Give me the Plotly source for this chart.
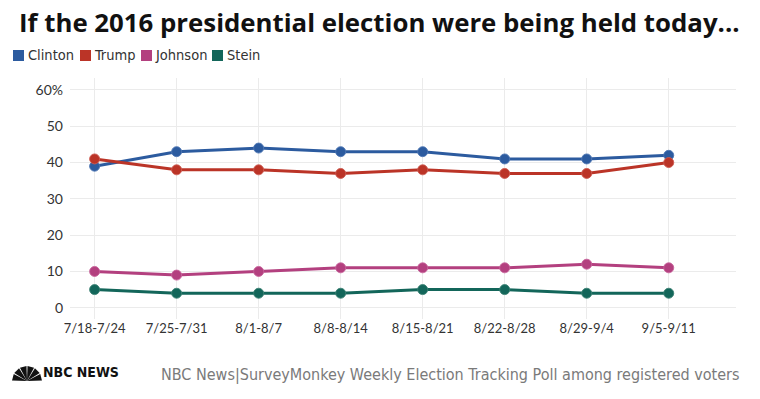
import plotly.graph_objects as go
import math

weeks = ["7/18-7/24", "7/25-7/31", "8/1-8/7", "8/8-8/14", "8/15-8/21", "8/22-8/28", "8/29-9/4", "9/5-9/11"]
clinton = [39, 43, 44, 43, 43, 41, 41, 42]
trump = [41, 38, 38, 37, 38, 37, 37, 40]
johnson = [10, 9, 10, 11, 11, 11, 12, 11]
stein = [5, 4, 4, 4, 5, 5, 4, 4]
y_ticks = [0, 10, 20, 30, 40, 50, 60]
y_ticktext = ["0", "10", "20", "30", "40", "50", "60%"]

series = [("Clinton", clinton, "#2c5b9f", "rgba(80,120,180,0.9)"),
          ("Trump", trump, "#bb3427", "rgba(205,90,80,0.9)"),
          ("Johnson", johnson, "#b3407f", "rgba(200,100,155,0.9)"),
          ("Stein", stein, "#13665a", "rgba(60,130,115,0.9)")]

W, H = 760, 399
L, R, T, B = 70, 24, 78, 80
PW, PH = W - L - R, H - T - B

def px(x):
    return (x - L) / PW

def py(y):
    return (H - B - y) / PH

fig = go.Figure()
for name, vals, col, edge in series:
    fig.add_trace(go.Scatter(x=weeks, y=vals, name=name, mode="lines+markers",
                             line=dict(color=col, width=3),
                             marker=dict(color=col, size=10, line=dict(color=edge, width=1)),
                             showlegend=False))

cond_font = "DejaVu Sans Condensed, Roboto, sans-serif"
tick_font = "Lato, Open Sans, sans-serif"

annotations = [
    dict(text="<b>If the 2016 presidential election were being held today...</b>",
         x=px(17), y=py(22), xref="paper", yref="paper", xanchor="left", yanchor="middle",
         showarrow=False, font=dict(family="Open Sans, sans-serif", size=25.8, color="#111")),
    dict(text="NBC News|SurveyMonkey Weekly Election Tracking Poll among registered voters",
         x=px(741), y=py(374), xref="paper", yref="paper", xanchor="right", yanchor="middle",
         showarrow=False, font=dict(family=cond_font, size=16, color="#7a7a7a")),
    dict(text="<b>NBC NEWS</b>",
         x=px(41), y=py(372), xref="paper", yref="paper", xanchor="left", yanchor="middle",
         showarrow=False, font=dict(family=cond_font, size=14, color="#111")),
]
legend_pos = [(13, 26), (80, 92), (141, 153), (212, 225)]
shapes = []
for (name, vals, col, edge), (sx, tx) in zip(series, legend_pos):
    shapes.append(dict(type="rect", xref="paper", yref="paper",
                       x0=px(sx), x1=px(sx + 11), y0=py(61), y1=py(50),
                       fillcolor=col, line=dict(width=0)))
    annotations.append(dict(text=name, x=px(tx), y=py(55), xref="paper", yref="paper",
                            xanchor="left", yanchor="middle", showarrow=False,
                            font=dict(family=cond_font, size=14.5, color="#333")))

# simple peacock glyph for the logo
cx, cy = 27, 381
for i in range(6):
    a0 = math.radians(180 - i * 30 - 2)
    a1 = math.radians(180 - (i + 1) * 30 + 2)
    r = 15
    x0 = cx + r * math.cos(a0); y0 = cy - r * math.sin(a0)
    x1 = cx + r * math.cos(a1); y1 = cy - r * math.sin(a1)
    path = f"M {px(cx)},{py(cy)} L {px(x0)},{py(y0)} L {px(x1)},{py(y1)} Z"
    shapes.append(dict(type="path", xref="paper", yref="paper", path=path,
                       fillcolor="#111", line=dict(width=0)))

fig.update_layout(
    width=W, height=H, margin=dict(l=L, r=R, t=T, b=B),
    paper_bgcolor="white", plot_bgcolor="white",
    annotations=annotations, shapes=shapes,
    xaxis=dict(type="category", range=[-0.3, 7.82], showgrid=True, gridcolor="#ebebeb",
               gridwidth=1, zeroline=False, showline=False, ticks="",
               tickfont=dict(family=tick_font, size=13, color="#333")),
    yaxis=dict(range=[-3.1, 63.3], tickvals=y_ticks, ticktext=y_ticktext,
               showgrid=True, gridcolor="#ebebeb", gridwidth=1, zeroline=False,
               showline=False, ticks="", ticklabelstandoff=6,
               tickfont=dict(family=tick_font, size=14, color="#333")),
)

fig.write_html("out.html", config={"displayModeBar": False},
               post_script="document.body.style.margin='0';document.body.style.padding='0';")
